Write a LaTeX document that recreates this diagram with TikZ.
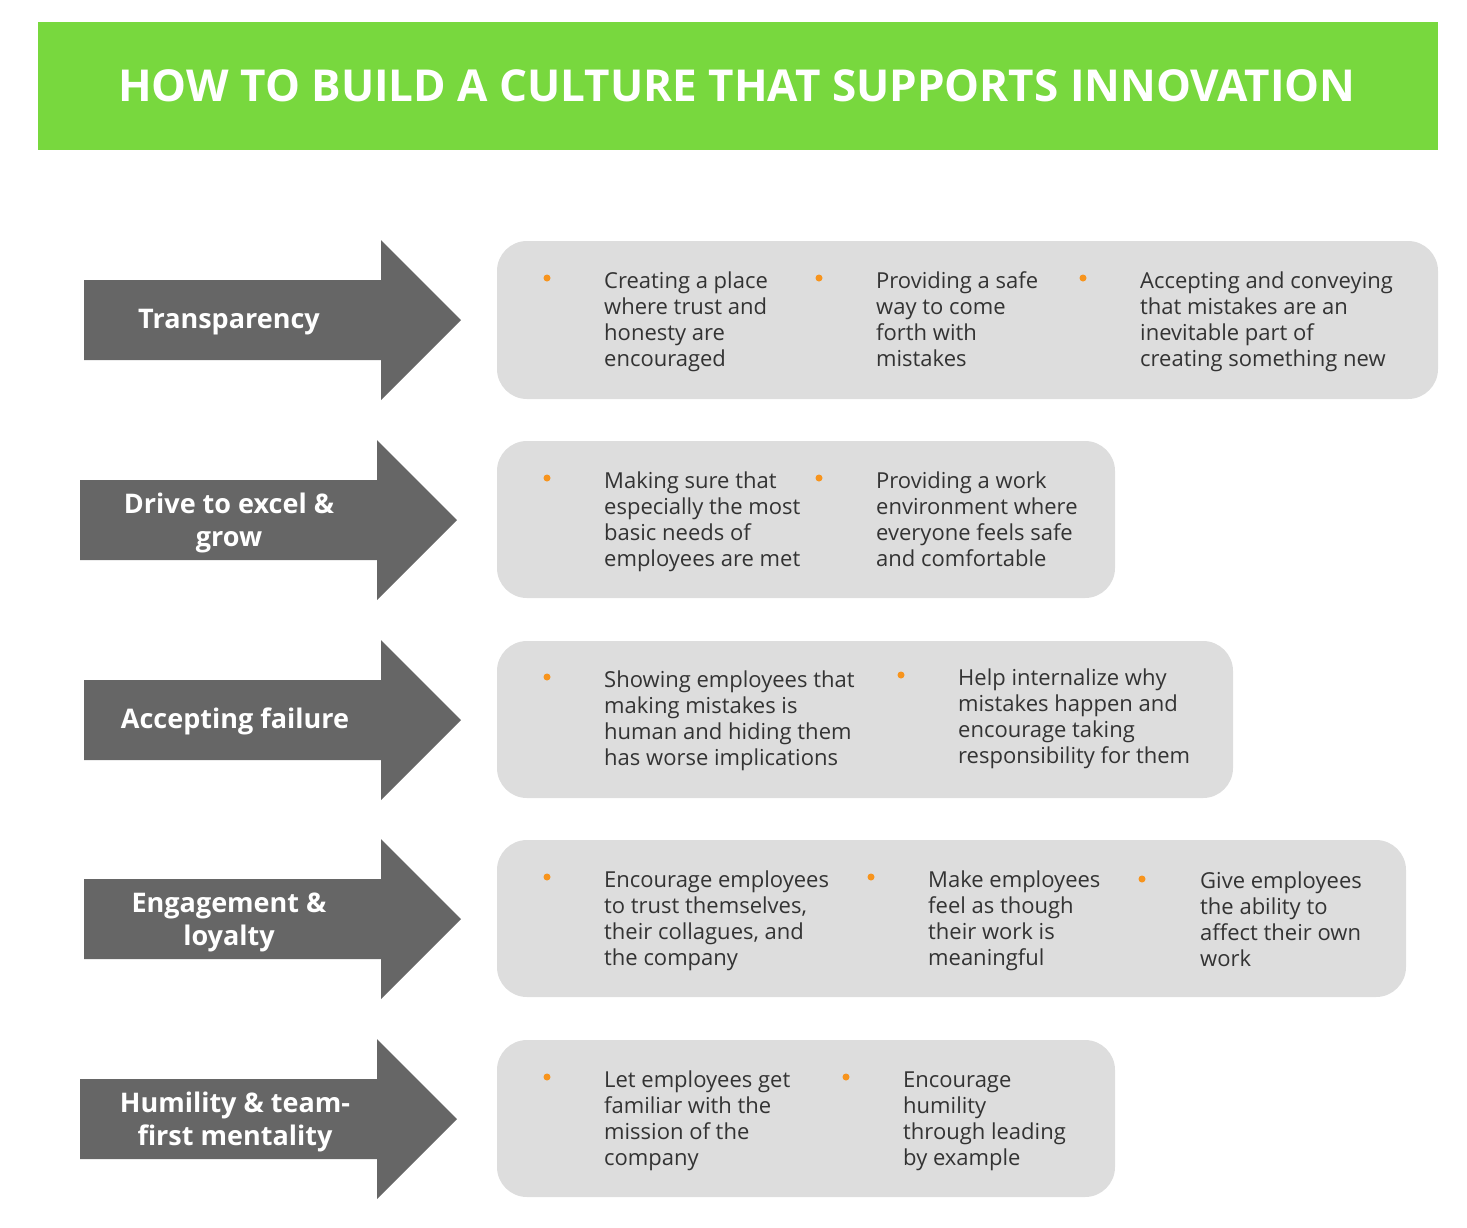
\documentclass[tikz,border=0pt]{standalone}
\usepackage{fontspec}
\setmainfont{Open Sans}
\usetikzlibrary{positioning}

\definecolor{titlegreen}{HTML}{78D83E}
\definecolor{arrowgray}{HTML}{666666}
\definecolor{boxgray}{HTML}{DDDDDD}
\definecolor{txtgray}{HTML}{333333}
\definecolor{dotorange}{HTML}{F7941D}

\tikzset{
  item/.style={anchor=base west, align=left, inner sep=0pt, text=txtgray,
    font=\fontsize{22}{26}\selectfont},
  dot/.style={circle, fill=dotorange, inner sep=0pt, minimum size=7pt},
  label/.style={align=center, inner sep=0pt, text=white,
    font=\bfseries\fontsize{27}{33}\selectfont},
  card/.style={fill=boxgray, rounded corners=30pt}
}

\begin{document}
\begin{tikzpicture}[x=1pt,y=-1pt]
\useasboundingbox (0,0) rectangle (1467,1227);

% title bar
\fill[titlegreen] (38,22) rectangle (1438,150);
\node[text=white, font=\bfseries\fontsize{44}{54}\selectfont] (title) at (737,86) {HOW TO BUILD A CULTURE THAT SUPPORTS INNOVATION};

% arrows
\foreach \x/\y in {84/280, 80/480, 84/680, 84/879, 80/1079}
  \fill[arrowgray] (\x,\y) -- ++(297,0) -- ++(0,-40) -- ++(80,80) -- ++(-80,80) -- ++(0,-40) -- ++(-297,0) -- cycle;

\node[label] (a1) at (229,322) {Transparency};
\node[label] (a2) at (229,523) {Drive to excel \&\\grow};
\node[label] (a3) at (235,721) {Accepting failure};
\node[label] (a4) at (229,922) {Engagement \&\\loyalty};
\node[label] (a5) at (235,1122) {Humility \& team-\\first mentality};

% cards
\fill[card] (497,241) rectangle (1438,399);
\fill[card] (497,441) rectangle (1115,598);
\fill[card] (497,641) rectangle (1233,798);
\fill[card] (497,840) rectangle (1406,997);
\fill[card] (497,1040) rectangle (1115,1197);

% row 1 (items sit on the baseline of their last line)
\node[dot] (d11) at (547,278) {};
\node[dot] (d12) at (819,278) {};
\node[dot] (d13) at (1083,278) {};
\node[item] (t11) at (604,366) {Creating a place\\where trust and\\honesty are\\encouraged};
\node[item] (t12) at (876,366) {Providing a safe\\way to come\\forth with\\mistakes};
\node[item] (t13) at (1140,366) {Accepting and conveying\\that mistakes are an\\inevitable part of\\creating something new};

% row 2
\node[dot] (d21) at (547,478) {};
\node[dot] (d22) at (819,478) {};
\node[item] (t21) at (604,566) {Making sure that\\especially the most\\basic needs of\\employees are met};
\node[item] (t22) at (876,566) {Providing a work\\environment where\\everyone feels safe\\and comfortable};

% row 3
\node[dot] (d31) at (547,677) {};
\node[dot] (d32) at (901,675) {};
\node[item] (t31) at (604,765) {Showing employees that\\making mistakes is\\human and hiding them\\has worse implications};
\node[item] (t32) at (958,763) {Help internalize why\\mistakes happen and\\encourage taking\\responsibility for them};

% row 4
\node[dot] (d41) at (547,877) {};
\node[dot] (d42) at (871,877) {};
\node[dot] (d43) at (1142,879) {};
\node[item] (t41) at (604,965) {Encourage employees\\to trust themselves,\\their collagues, and\\the company};
\node[item] (t42) at (928,965) {Make employees\\feel as though\\their work is\\meaningful};
\node[item] (t43) at (1200,966) {Give employees\\the ability to\\affect their own\\work};

% row 5
\node[dot] (d51) at (547,1077) {};
\node[dot] (d52) at (846,1077) {};
\node[item] (t51) at (604,1165) {Let employees get\\familiar with the\\mission of the\\company};
\node[item] (t52) at (903,1165) {Encourage\\humility\\through leading\\by example};

\end{tikzpicture}
\end{document}
